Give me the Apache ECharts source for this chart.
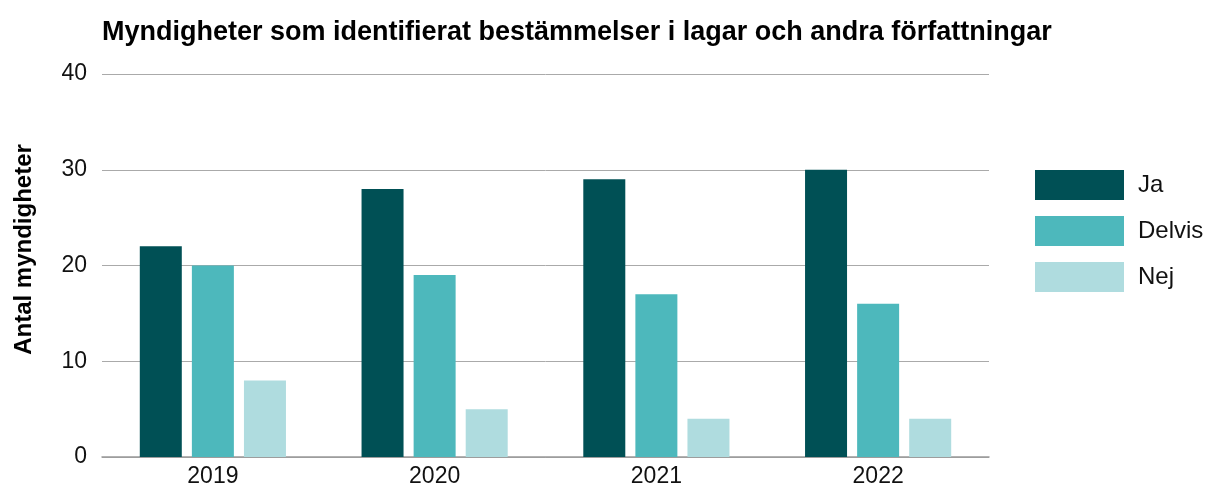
<!DOCTYPE html>
<html>
<head>
<meta charset="utf-8">
<script src="https://cdn.jsdelivr.net/npm/echarts@6/dist/echarts.min.js"></script>
<style>
  html, body { margin: 0; padding: 0; background: #fff; }
  #chart { width: 1207px; height: 488px; }
</style>
</head>
<body>
<div id="chart"></div>
<script>
// data
const years = ['2019', '2020', '2021', '2022']
const ja = [22, 28, 29, 30]
const delvis = [20, 19, 17, 16]
const nej = [8, 5, 4, 4]

const font = '"Liberation Sans", Arial, sans-serif'
const chart = echarts.init(document.getElementById('chart'))

const barSeries = (name, data, color) => ({
  name: name,
  type: 'bar',
  data: data,
  barWidth: 42,
  barGap: '24%',
  itemStyle: { color: color },
  emphasis: { disabled: true }
})

chart.setOption({
  animation: false,
  textStyle: { fontFamily: font },
  title: {
    text: 'Myndigheter som identifierat bestämmelser i lagar och andra författningar',
    left: 97,
    top: 14,
    textStyle: { fontSize: 27, fontWeight: 'bold', color: '#000', fontFamily: font }
  },
  legend: {
    orient: 'vertical',
    left: 1030,
    top: 165,
    itemWidth: 89,
    itemHeight: 30,
    itemGap: 16,
    icon: 'rect',
    textStyle: { fontSize: 24, color: '#111', padding: [4, 0, 0, 9], fontFamily: font },
    data: ['Ja', 'Delvis', 'Nej']
  },
  grid: { left: 102, right: 218, top: 74, bottom: 30 },
  xAxis: {
    type: 'category',
    data: years,
    axisTick: { show: false },
    axisLine: { lineStyle: { color: '#999', width: 1.5 } },
    axisLabel: { fontSize: 23, color: '#111', margin: 8 }
  },
  yAxis: {
    type: 'value',
    min: 0,
    max: 40,
    interval: 10,
    name: 'Antal myndigheter',
    nameLocation: 'middle',
    nameGap: 66,
    nameTextStyle: { fontSize: 24, fontWeight: 'bold', color: '#000', padding: [0, 0, 0, 32] },
    axisLabel: { fontSize: 23, color: '#111', margin: 15 },
    splitLine: { lineStyle: { color: '#aaa', width: 1 } }
  },
  series: [
    barSeries('Ja', ja, '#005055'),
    barSeries('Delvis', delvis, '#4db8bc'),
    barSeries('Nej', nej, '#afdcdf')
  ]
})
</script>
</body>
</html>
